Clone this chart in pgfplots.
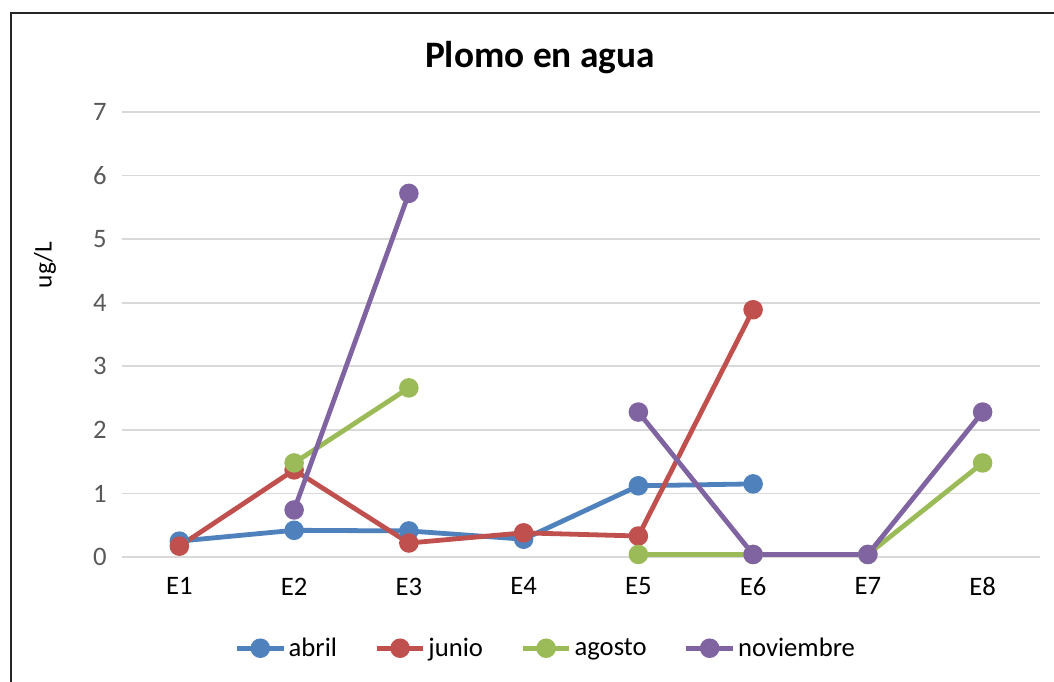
\documentclass[border=0pt]{standalone}
\usepackage{fontspec}
\setmainfont{Carlito}
\usepackage{pgfplots}
\pgfplotsset{compat=1.18}

\definecolor{cAbril}{RGB}{79,129,189}
\definecolor{cJunio}{RGB}{192,80,77}
\definecolor{cAgosto}{RGB}{155,187,89}
\definecolor{cNov}{RGB}{128,100,162}
\definecolor{gridc}{RGB}{217,217,217}
\definecolor{tickc}{RGB}{89,89,89}

\begin{document}
\begin{tikzpicture}[x=0.75pt,y=0.75pt]
\path[use as bounding box] (0,0) rectangle (1054,682);
% chart frame (only left and top edges are visible)
\draw[line width=1.5pt, black!85] (11,0) -- (11,669) -- (1054,669);

\begin{axis}[
    at={(91.5pt,93.75pt)}, anchor=south west,
    scale only axis,
    width=688.5pt, height=333.75pt,
    xmin=0.5, xmax=8.5, ymin=0, ymax=7,
    xtick={1,...,8},
    xticklabels={E1,E2,E3,E4,E5,E6,E7,E8},
    ytick={0,...,7},
    axis line style={draw=none},
    major tick length=0pt,
    ymajorgrids,
    grid style={gridc, line width=1.3pt},
    /pgf/number format/assume math mode=true,
    ticklabel style={font=\fontsize{20}{24}\selectfont},
    yticklabel style={tickc, xshift=-8pt},
    xticklabel style={black, yshift=-12pt},
    unbounded coords=jump,
    clip=false,
    every axis plot/.append style={line width=3.6pt, mark=*, mark size=5.5pt},
    legend columns=4,
    legend style={at={(0.462,-0.205)}, anchor=center, draw=none,
        font=\fontsize{20}{24}\selectfont,
        /tikz/every even column/.append style={column sep=26pt}},
    legend image code/.code={%
        \draw[#1, mark=none] (0pt,0pt) -- (35pt,0pt);
        \draw[#1, only marks] plot coordinates {(17.5pt,0pt)};},
]
\addplot[cAbril] coordinates {(1,0.25) (2,0.42) (3,0.41) (4,0.28) (5,1.12) (6,1.15)};
\addlegendentry{abril}
\addplot[cJunio] coordinates {(1,0.17) (2,1.37) (3,0.22) (4,0.38) (5,0.33) (6,3.89)};
\addlegendentry{junio}
\addplot[cAgosto] coordinates {(2,1.48) (3,2.66) (4,nan) (5,0.04) (6,0.04) (7,0.04) (8,1.48)};
\addlegendentry{agosto}
\addplot[cNov] coordinates {(2,0.74) (3,5.72) (4,nan) (5,2.28) (6,0.04) (7,0.04) (8,2.28)};
\addlegendentry{noviembre}
\end{axis}

\node[font=\bfseries\fontsize{28}{34}\selectfont] at (540,624) {Plomo en agua};
\node[rotate=90, font=\fontsize{19}{23}\selectfont] at (45,417) {ug/L};
\end{tikzpicture}
\end{document}
